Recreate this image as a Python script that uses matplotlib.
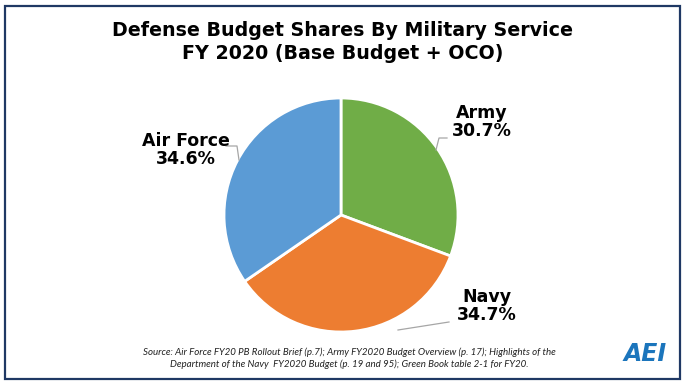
import matplotlib
matplotlib.use("Agg")
import matplotlib.pyplot as plt
from matplotlib.patches import Rectangle

services = ["Army", "Navy", "Air Force"]
shares = [30.7, 34.7, 34.6]
colors = ["#70AD47", "#ED7D31", "#5B9BD5"]
title = "Defense Budget Shares By Military Service\nFY 2020 (Base Budget + OCO)"
source = ("Source: Air Force FY20 PB Rollout Brief (p.7); Army FY2020 Budget Overview (p. 17); Highlights of the\n"
          "Department of the Navy  FY2020 Budget (p. 19 and 95); Green Book table 2-1 for FY20.")

W, H = 686, 387
fig = plt.figure(figsize=(W / 100, H / 100), dpi=100)
ax = fig.add_axes([0, 0, 1, 1])
ax.set_xlim(0, W)
ax.set_ylim(0, H)
ax.axis("off")

# frame
ax.add_patch(Rectangle((5, 8), 675, 373, fill=False, edgecolor="#1F3864", linewidth=1.6))

ax.pie(shares, colors=colors, startangle=90, counterclock=False,
       center=(341, H - 215), radius=117,
       wedgeprops=dict(edgecolor="white", linewidth=2))
ax.set_xlim(0, W)
ax.set_ylim(0, H)
ax.set_aspect("equal")

fam = ["DejaVu Sans"]
ax.text(343, H - 42, title, ha="center", va="center", fontsize=13.7,
        fontweight="bold", family=fam, linespacing=1.25)

label_pos = [(482, H - 122), (487, H - 306), (186, H - 150)]
leaders = [
    [(436, H - 150), (439, H - 138), (447, H - 138)],
    [(398, H - 330), (449, H - 322)],
    [(226, H - 146), (237, H - 146), (239, H - 160)],
]
for name, val, (x, y), pts in zip(services, shares, label_pos, leaders):
    ax.text(x, y, f"{name}\n{val:.1f}%", ha="center", va="center",
            fontsize=12.5, fontweight="bold", family=fam, linespacing=1.05)
    xs, ys = zip(*pts)
    ax.plot(xs, ys, color="#A6A6A6", linewidth=0.9)

ax.text(349, H - 358, source, ha="center", va="center", fontsize=7.0,
        style="italic", family=["Lato", "DejaVu Sans"], color="#222222", linespacing=1.3)

ax.text(645, H - 354, "AEI", ha="center", va="center", fontsize=17,
        fontweight="black", style="italic", family=["DejaVu Sans"], color="#1B75BC")

fig.savefig("out.png", dpi=100)
